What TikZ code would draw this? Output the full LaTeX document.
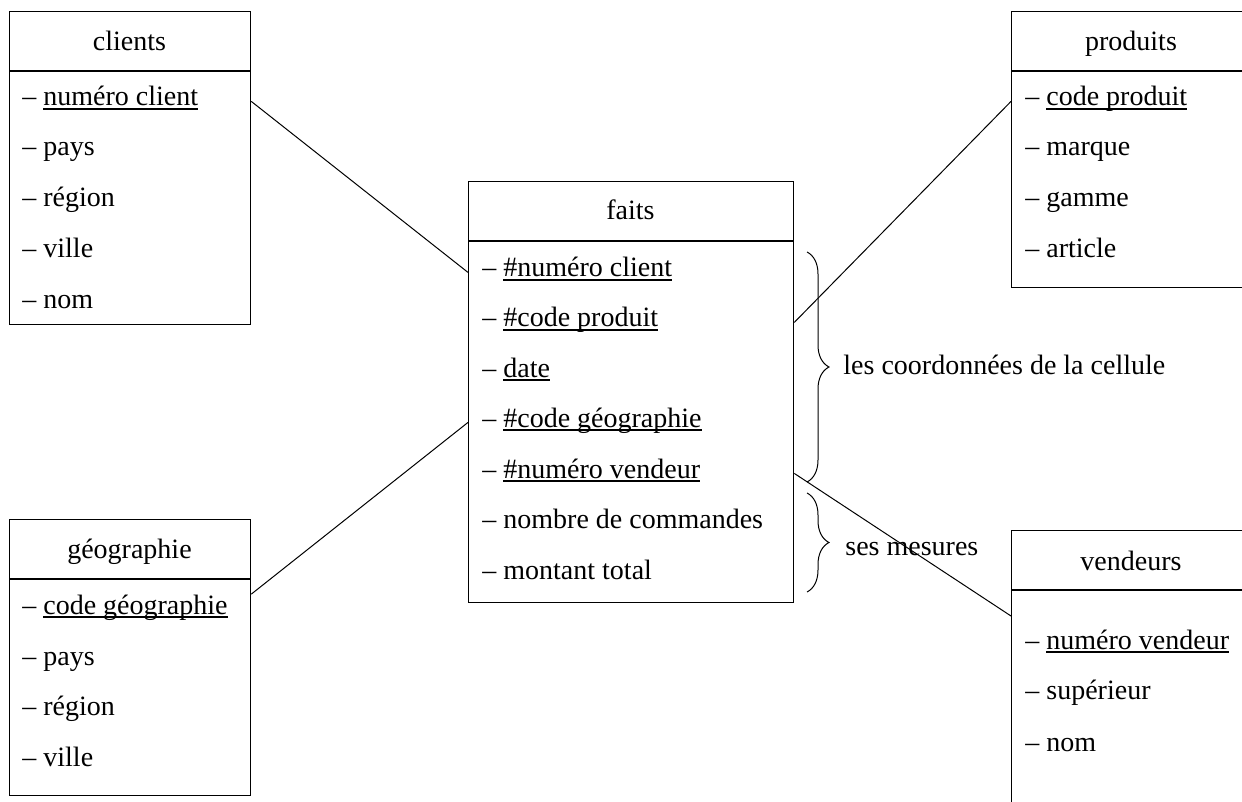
\documentclass[tikz,border=0pt]{standalone}
\usepackage{fontspec}
\setmainfont{Liberation Serif}
\usetikzlibrary{decorations.pathreplacing}
\newcommand{\souligne}[1]{\setbox0\hbox{#1}\rlap{\vrule width\wd0 height -1.2pt depth 1.8pt}\box0}
\tikzset{
  tbl/.style={draw,line width=0.65pt,inner sep=0pt,anchor=north west},
  ttl/.style={anchor=base,inner sep=0pt,font=\fontsize{14pt}{17pt}\selectfont},
  attr/.style={anchor=base west,inner sep=0pt,font=\fontsize{14pt}{17pt}\selectfont},
  lien/.style={line width=0.5pt},
  accol/.style={line width=0.5pt,decorate,decoration={brace,amplitude=11pt}}
}
\begin{document}
\begin{tikzpicture}[x=0.5pt,y=-0.5pt]
\useasboundingbox (0,0) rectangle (1242,802);
\clip (0,0) rectangle (1242,802);
% clients
\node[tbl,minimum width=120.5pt,minimum height=156.5pt] (clients) at (9,11) {};
\draw[line width=0.65pt] (clients.north west) ++(0,60) -- ++(241,0);
\node[ttl] (tclients) at (129.5,51) {clients};
\node[attr] (c1) at (22,106) {– \souligne{numéro client}};
\node[attr] (c2) at (22,156) {– pays};
\node[attr] (c3) at (22,207) {– région};
\node[attr] (c4) at (22,257) {– ville};
\node[attr] (c5) at (22,308) {– nom};
% geographie
\node[tbl,minimum width=120.5pt,minimum height=138pt] (geo) at (9,519) {};
\draw[line width=0.65pt] (geo.north west) ++(0,60) -- ++(241,0);
\node[ttl] (tgeo) at (129.5,558) {géographie};
\node[attr] (g1) at (22,614) {– \souligne{code géographie}};
\node[attr] (g2) at (22,665) {– pays};
\node[attr] (g3) at (22,715) {– région};
\node[attr] (g4) at (22,766) {– ville};
% faits
\node[tbl,minimum width=162.5pt,minimum height=210.5pt] (faits) at (468,181) {};
\draw[line width=0.65pt] (faits.north west) ++(0,60) -- ++(325,0);
\node[ttl] (tfaits) at (630.5,220) {faits};
\node[attr] (f1) at (482,277) {– \souligne{\#numéro client}};
\node[attr] (f2) at (482,327) {– \souligne{\#code produit}};
\node[attr] (f3) at (482,377) {– \souligne{date}};
\node[attr] (f4) at (482,427) {– \souligne{\#code géographie}};
\node[attr] (f5) at (482,478) {– \souligne{\#numéro vendeur}};
\node[attr] (f6) at (482,528) {– nombre de commandes};
\node[attr] (f7) at (482,579) {– montant total};
% produits
\node[tbl,minimum width=120pt,minimum height=138pt] (prod) at (1011,11) {};
\draw[line width=0.65pt] (prod.north west) ++(0,60) -- ++(240,0);
\node[ttl] (tprod) at (1131,51) {produits};
\node[attr] (p1) at (1025,106) {– \souligne{code produit}};
\node[attr] (p2) at (1025,156) {– marque};
\node[attr] (p3) at (1025,207) {– gamme};
\node[attr] (p4) at (1025,257) {– article};
% vendeurs
\node[tbl,minimum width=120pt,minimum height=150pt] (vend) at (1011,530) {};
\draw[line width=0.65pt] (vend.north west) ++(0,60) -- ++(240,0);
\node[ttl] (tvend) at (1131,570) {vendeurs};
\node[attr] (v1) at (1025,649) {– \souligne{numéro vendeur}};
\node[attr] (v2) at (1025,699) {– supérieur};
\node[attr] (v3) at (1025,751) {– nom};
\coordinate (vpt) at (1011,616);
% liens
\draw[lien] (c1.mid -| clients.east) -- (f1.mid -| faits.west);
\draw[lien] (p1.mid -| prod.west) -- (f2.mid -| faits.east);
\draw[lien] (g1.north -| geo.east) -- (f4.mid -| faits.west);
\draw[lien] (f5.mid -| faits.east) -- (vpt);
% accolades
\draw[accol] (807,252) -- (807,482);
\draw[accol] (807,493) -- (807,592);
\node[attr] (coord) at (843,374) {les coordonnées de la cellule};
\node[attr] (mes) at (845,555) {ses mesures};
\end{tikzpicture}
\end{document}
